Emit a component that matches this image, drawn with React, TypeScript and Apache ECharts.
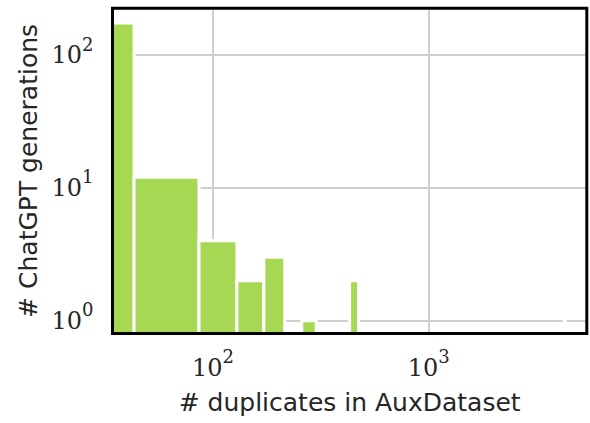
import React, { useEffect, useRef } from "react";
import * as echarts from "echarts";

// Histogram bins (linear bins of width 43 on a log-scaled x axis)
const binStarts = [0, 43, 86, 129, 172, 258, 430, 4257];
const binEnds = [43, 86, 129, 172, 215, 301, 473, 4300];
const counts = [174, 12, 4, 2, 3, 1, 2, 1];

// Axis ranges and tick values
const xRange = [34.16, 5413];
const yRange = [0.8, 225];
const xTicks = [100, 1000];
const yTicks = [1, 10, 100];

const xTitle = "# duplicates in AuxDataset";
const yTitle = "# ChatGPT generations";

const BAR_COLOR = "#a6d854";
const GRID_COLOR = "#cfcfcf";
const TEXT_COLOR = "#262626";

const GRID = { left: 112.5, top: 8.3, width: 474.3, height: 325.2 };

function powLabel(v: number, ticks: number[]) {
  const hit = ticks.find((t) => Math.abs(t - v) / t < 1e-6);
  if (hit === undefined) return "";
  const e = Math.round(Math.log10(hit));
  return "{b|10}{s|" + e + "}";
}

const tickRich = {
  b: { fontFamily: "DejaVu Serif", fontSize: 24, color: TEXT_COLOR, lineHeight: 40 },
  s: { fontFamily: "DejaVu Serif", fontSize: 18, color: TEXT_COLOR, verticalAlign: "top", lineHeight: 18 },
};

const titleRich = {
  h: { fontFamily: "DejaVu Serif", fontSize: 25, color: TEXT_COLOR },
};

function withHash(t: string) {
  return t.replace(/^# /, "{h|#} ");
}

export default function App() {
  const ref = useRef<HTMLDivElement>(null);
  useEffect(() => {
    document.body.style.margin = "0";
    const chart = echarts.init(ref.current!, undefined, { renderer: "svg" });
    const data = binStarts.map((s, i) => [s, binEnds[i], counts[i]]);
    chart.setOption({
      animation: false,
      backgroundColor: "#ffffff",
      grid: { ...GRID, containLabel: false, show: false },
      xAxis: {
        type: "log",
        logBase: 10,
        min: xRange[0],
        max: xRange[1],
        name: withHash(xTitle),
        nameLocation: "middle",
        nameGap: 56,
        nameTextStyle: {
          fontFamily: "DejaVu Sans",
          fontSize: 25,
          color: TEXT_COLOR,
          rich: titleRich,
        },
        axisLine: { show: false },
        axisTick: { show: false },
        axisLabel: {
          margin: 14,
          showMinLabel: false,
          showMaxLabel: false,
          formatter: (v: number) => powLabel(v, xTicks),
          rich: tickRich,
        },
        splitLine: {
          show: true,
          showMinLine: false,
          showMaxLine: false,
          lineStyle: { color: GRID_COLOR, width: 2 },
        },
      },
      yAxis: {
        type: "log",
        logBase: 10,
        min: yRange[0],
        max: yRange[1],
        name: withHash(yTitle),
        nameLocation: "middle",
        nameGap: 59,
        nameTextStyle: {
          fontFamily: "DejaVu Sans",
          fontSize: 25,
          color: TEXT_COLOR,
          rich: titleRich,
        },
        axisLine: { show: false },
        axisTick: { show: false },
        axisLabel: {
          margin: 19,
          showMinLabel: false,
          showMaxLabel: false,
          formatter: (v: number) => powLabel(v, yTicks),
          rich: tickRich,
        },
        splitLine: {
          show: true,
          showMinLine: false,
          showMaxLine: false,
          lineStyle: { color: GRID_COLOR, width: 2 },
        },
      },
      series: [
        {
          type: "custom",
          clip: true,
          encode: { x: [0, 1], y: 2 },
          data,
          renderItem: (params: any, api: any) => {
            const x0 = Math.max(api.value(0), xRange[0]);
            const x1 = api.value(1);
            const c = api.value(2);
            const p0 = api.coord([x0, yRange[0]]);
            const p1 = api.coord([x1, c]);
            const cs = params.coordSys;
            const shape = echarts.graphic.clipRectByRect(
              { x: p0[0], y: p1[1], width: p1[0] - p0[0], height: p0[1] - p1[1] },
              { x: cs.x, y: cs.y, width: cs.width, height: cs.height }
            );
            if (!shape) return null;
            return {
              type: "rect",
              shape,
              style: { fill: BAR_COLOR, stroke: "#ffffff", lineWidth: 3 },
            };
          },
        },
      ],
      graphic: [
        {
          type: "rect",
          z: 100,
          silent: true,
          shape: { x: GRID.left, y: GRID.top, width: GRID.width, height: GRID.height },
          style: { fill: "none", stroke: "#000000", lineWidth: 3 },
        },
      ],
    });
    return () => chart.dispose();
  }, []);
  return (
    <div
      ref={ref}
      style={{ position: "fixed", left: 0, top: 0, width: 590, height: 423 }}
    />
  );
}
